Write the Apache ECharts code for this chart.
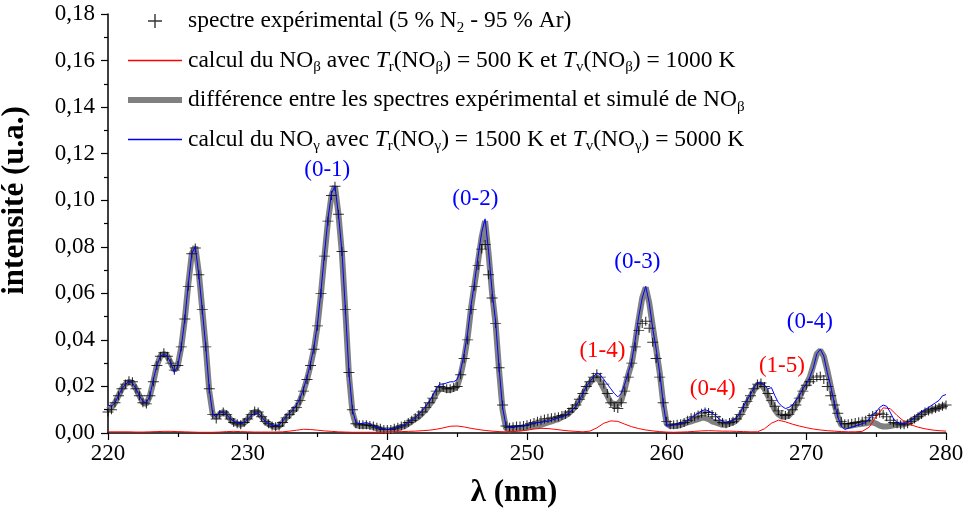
<!DOCTYPE html>
<html><head><meta charset="utf-8">
<script src="https://cdn.jsdelivr.net/npm/echarts@6/dist/echarts.min.js"></script>
<style>html,body{margin:0;padding:0;background:#fff}#c{width:965px;height:508px}</style>
</head><body><div id="c"></div>
<script>
// wavelength sampling
const LAMBDA_START = 220;
const STEP_FINE = 0.25;   // experimental, difference, NO-gamma
const STEP_RED = 0.5;     // NO-beta calculation

const xTicks = [220, 230, 240, 250, 260, 270, 280];
const yTicks = [0, 0.02, 0.04, 0.06, 0.08, 0.10, 0.12, 0.14, 0.16, 0.18];

// spectre expérimental
const experimental = [
  0.009,0.010,0.013,0.016, 0.019,0.021,0.0225,0.022, 0.019,0.016,0.013,0.0125, 0.016,0.022,0.029,0.033, 0.0345,0.033,0.030,0.027,
  0.029,0.037,0.049,0.063, 0.077,0.0795,0.068,0.053, 0.037,0.019,0.008,0.006, 0.008,0.009,0.008,0.006, 0.0045,0.004,0.0035,0.0045,
  0.006,0.008,0.0095,0.009, 0.007,0.005,0.004,0.003, 0.0027,0.003,0.0045,0.0065, 0.008,0.0095,0.011,0.014, 0.018,0.023,0.029,0.036,
  0.046,0.060,0.076,0.091, 0.102,0.106,0.094,0.078, 0.053,0.026,0.010,0.004, 0.0035,0.0035,0.0035,0.0032, 0.003,0.0025,0.002,0.0015,
  0.0015,0.0015,0.002,0.0025, 0.003,0.0035,0.0045,0.0055, 0.0065,0.0078,0.009,0.011, 0.013,0.015,0.018,0.020, 0.0195,0.019,0.019,0.0195,
  0.020,0.025,0.032,0.040, 0.053,0.063,0.072,0.079, 0.081,0.068,0.058,0.047, 0.028,0.012,0.003,0.0025, 0.0027,0.003,0.003,0.0032,
  0.0035,0.004,0.0045,0.005, 0.0055,0.006,0.0063,0.0065, 0.0068,0.007,0.0075,0.008, 0.009,0.0105,0.012,0.0145, 0.017,0.020,0.022,0.024,
  0.0255,0.024,0.021,0.017, 0.013,0.011,0.0105,0.013, 0.018,0.024,0.030,0.037, 0.044,0.047,0.048,0.045, 0.039,0.032,0.024,0.013,
  0.005,0.0035,0.0035,0.0038, 0.004,0.0045,0.0055,0.0065, 0.007,0.0077,0.0085,0.009, 0.0088,0.008,0.007,0.0055, 0.0045,0.004,0.0045,0.005,
  0.006,0.008,0.011,0.0135, 0.016,0.019,0.021,0.0215, 0.020,0.017,0.014,0.0115, 0.0095,0.008,0.0075,0.008, 0.010,0.012,0.015,0.018,
  0.0205,0.022,0.023,0.024, 0.0245,0.023,0.020,0.016, 0.012,0.0085,0.005,0.004, 0.004,0.0042,0.0045,0.0048, 0.005,0.0055,0.0065,0.0075,
  0.008,0.0085,0.008,0.007, 0.0055,0.0045,0.004,0.0035, 0.0035,0.004,0.005,0.006, 0.007,0.008,0.009,0.0095, 0.010,0.0105,0.011,0.0115,
  0.012
];

// calcul du NO-gamma
const calcGamma = [
  0.012,0.0115,0.013,0.016, 0.019,0.021,0.022,0.0215, 0.019,0.016,0.0135,0.013, 0.016,0.023,0.029,0.033, 0.034,0.033,0.030,0.026,
  0.029,0.037,0.049,0.064, 0.077,0.080,0.068,0.053, 0.037,0.019,0.008,0.007, 0.009,0.009,0.008,0.006, 0.005,0.0045,0.004,0.0045,
  0.006,0.0075,0.0085,0.0085, 0.007,0.005,0.004,0.0035, 0.003,0.0035,0.005,0.007, 0.0085,0.010,0.012,0.015, 0.019,0.024,0.030,0.037,
  0.047,0.061,0.077,0.092, 0.103,0.106,0.094,0.078, 0.053,0.026,0.010,0.0045, 0.004,0.0042,0.0045,0.004, 0.003,0.0025,0.002,0.0015,
  0.0015,0.0015,0.002,0.0025, 0.003,0.0035,0.0045,0.0055, 0.0065,0.008,0.0095,0.0115, 0.0135,0.016,0.019,0.021, 0.021,0.0215,0.022,0.022,
  0.023,0.027,0.034,0.043, 0.055,0.065,0.076,0.086, 0.092,0.078,0.061,0.048, 0.028,0.011,0.003,0.0025, 0.0025,0.003,0.003,0.003,
  0.0035,0.004,0.004,0.0045, 0.0045,0.005,0.005,0.0055, 0.006,0.0065,0.007,0.0075, 0.0085,0.010,0.0115,0.014, 0.017,0.020,0.022,0.024,
  0.0258,0.025,0.023,0.021, 0.019,0.017,0.0155,0.017, 0.021,0.026,0.031,0.040, 0.050,0.058,0.063,0.056, 0.045,0.036,0.026,0.013,
  0.003,0.003,0.0035,0.0038, 0.004,0.0045,0.0055,0.0065, 0.0075,0.0085,0.0095,0.010, 0.0095,0.0085,0.0075,0.006, 0.005,0.0045,0.005,0.0055,
  0.0065,0.0085,0.0115,0.014, 0.0165,0.0195,0.0215,0.0215, 0.0205,0.019,0.0195,0.016, 0.013,0.0115,0.0105,0.011, 0.012,0.014,0.016,0.019,
  0.021,0.024,0.028,0.034, 0.036,0.033,0.026,0.020, 0.013,0.007,0.003,0.0015, 0.002,0.0025,0.003,0.0035, 0.004,0.0045,0.006,0.008,
  0.009,0.011,0.012,0.0115, 0.009,0.006,0.0045,0.004, 0.004,0.0045,0.0055,0.0065, 0.008,0.009,0.010,0.011, 0.012,0.013,0.014,0.016,
  0.0165
];

// différence entre les spectres expérimental et simulé de NO-beta
const difference = [
  0.010,0.011,0.013,0.016, 0.019,0.021,0.022,0.0215, 0.019,0.016,0.013,0.0125, 0.016,0.022,0.029,0.033, 0.034,0.033,0.030,0.027,
  0.029,0.037,0.049,0.064, 0.077,0.080,0.069,0.053, 0.037,0.018,0.008,0.007, 0.008,0.009,0.008,0.006, 0.0045,0.004,0.0035,0.0045,
  0.006,0.008,0.009,0.009, 0.007,0.005,0.004,0.003, 0.0025,0.003,0.0045,0.0065, 0.008,0.0095,0.011,0.014, 0.018,0.023,0.029,0.036,
  0.046,0.060,0.076,0.091, 0.102,0.106,0.094,0.077, 0.052,0.025,0.009,0.0035, 0.003,0.003,0.003,0.003, 0.0025,0.002,0.0015,0.0012,
  0.0012,0.0012,0.0015,0.002, 0.0025,0.003,0.004,0.005, 0.006,0.007,0.0085,0.010, 0.012,0.014,0.017,0.019, 0.019,0.0185,0.0185,0.019,
  0.020,0.025,0.032,0.041, 0.054,0.064,0.074,0.084, 0.091,0.077,0.060,0.047, 0.027,0.010,0.002,0.0015, 0.002,0.0022,0.0022,0.0022,
  0.0025,0.0028,0.003,0.0032, 0.0035,0.004,0.0045,0.005, 0.0055,0.006,0.0068,0.0075, 0.0085,0.010,0.0115,0.014, 0.0165,0.0195,0.0215,0.0235,
  0.024,0.022,0.019,0.016, 0.013,0.0125,0.0125,0.014, 0.019,0.025,0.030,0.039, 0.049,0.058,0.0625,0.056, 0.046,0.036,0.026,0.013,
  0.004,0.003,0.003,0.003, 0.0035,0.004,0.0045,0.005, 0.0055,0.006,0.0065,0.0065, 0.006,0.005,0.0045,0.004, 0.0035,0.0035,0.004,0.0045,
  0.0055,0.0075,0.010,0.013, 0.0155,0.0185,0.0205,0.021, 0.019,0.016,0.013,0.010, 0.008,0.007,0.007,0.0075, 0.0095,0.012,0.015,0.0185,
  0.021,0.024,0.029,0.034, 0.0355,0.033,0.027,0.020, 0.013,0.007,0.0035,0.003, 0.003,0.0032,0.0035,0.0038, 0.004,0.0042,0.0045,0.0045,
  0.004,0.0032,0.0028,0.0028, 0.003,0.0033,0.0035,0.0035, 0.0038,0.0042,0.005,0.006, 0.007,0.008,0.009,0.0095, 0.010,0.0105,0.011,0.0115,
  0.012
];

// calcul du NO-beta (0.5 nm step)
const calcBeta = [
  0.0005,0.0005,0.0005,0.0005,0.0004,0.0004,0.0005,0.0006,0.0007,0.0007,
  0.0006,0.0005,0.0004,0.0003,0.0003,0.0003,0.0004,0.0006,0.0007,0.0006,
  0.0005,0.0004,0.0004,0.0004,0.0004,0.0005,0.0008,0.0012,0.0016,0.0015,
  0.0012,0.0009,0.0007,0.0005,0.0004,0.0003,0.0003,0.0003,0.0003,0.0003,
  0.0004,0.0005,0.0006,0.0007,0.0008,0.0010,0.0012,0.0016,0.0022,0.0029,
  0.0030,0.0026,0.0020,0.0015,0.0011,0.0008,0.0006,0.0005,0.0006,0.0008,
  0.0012,0.0017,0.0020,0.0019,0.0016,0.0012,0.0009,0.0007,0.0005,0.0008,
  0.0022,0.0042,0.0052,0.0050,0.0038,0.0027,0.0019,0.0013,0.0009,0.0006,
  0.0004,0.0003,0.0004,0.0005,0.0007,0.0009,0.0010,0.0009,0.0008,0.0008,
  0.0007,0.0006,0.0005,0.0005,0.0018,0.0042,0.0055,0.0048,0.0038,0.0030,
  0.0023,0.0017,0.0013,0.0010,0.0008,0.0006,0.0005,0.0005,0.0007,0.0025,
  0.0070,0.0108,0.0105,0.0075,0.0050,0.0035,0.0025,0.0018,0.0013,0.0010,
  0.0008
];

// band annotations: label, wavelength, intensity (text centre), colour
const annotations = [
  ['(0-1)', 235.7, 0.113, '#0000ff'],
  ['(0-2)', 246.3, 0.1005, '#0000ff'],
  ['(0-3)', 257.9, 0.0735, '#0000ff'],
  ['(1-4)', 255.4, 0.0352, '#ff0000'],
  ['(0-4)', 263.3, 0.0189, '#ff0000'],
  ['(1-5)', 268.25, 0.0288, '#ff0000'],
  ['(0-4)', 270.25, 0.0477, '#0000ff']
];

const seriesNames = {
  exp: 'spectre expérimental (5 % N{sub|2} - 95 % Ar)',
  beta: 'calcul du NO{sub|β} avec {it|T}{sub|r}(NO{sub|β}) = 500 K et {it|T}{sub|v}(NO{sub|β}) = 1000 K',
  diff: 'différence entre les spectres expérimental et simulé de NO{sub|β}',
  gamma: 'calcul du NO{sub|γ} avec {it|T}{sub|r}(NO{sub|γ}) = 1500 K et {it|T}{sub|v}(NO{sub|γ}) = 5000 K'
};

const FONT = "'Liberation Serif', 'Times New Roman', serif";
function pairs(arr, step) { return arr.map((v, i) => [LAMBDA_START + i * step, v]); }

const chart = echarts.init(document.getElementById('c'), null, { renderer: 'canvas' });
const crossPath = 'path://M0,4.5 H10 V5.5 H0 Z M4.5,0 H5.5 V10 H4.5 Z';
// legend line icons (tiny corner triangles keep the 54x14 box)
const thinLine = 'path://M0,0 L0.01,0 L0,0.01 Z M0,6.3 H54 V7.7 H0 Z M54,14 L53.99,14 L54,13.99 Z';
const thickLine = 'path://M0,0 L0.01,0 L0,0.01 Z M0,4 H54 V10 H0 Z M54,14 L53.99,14 L54,13.99 Z';

chart.setOption({
  animation: false,
  backgroundColor: '#ffffff',
  grid: { left: 108, right: 19, top: 14, bottom: 75, containLabel: false, outerBoundsMode: 'none' },
  legend: {
    left: 123, top: 3, orient: 'vertical', selectedMode: false,
    itemWidth: 54, itemHeight: 14, itemGap: 12,
    data: [
      { name: 'exp', icon: crossPath, itemStyle: { color: '#000000' } },
      { name: 'beta', icon: thinLine, itemStyle: { color: '#ff0000' } },
      { name: 'diff', icon: thickLine, itemStyle: { color: '#808080' } },
      { name: 'gamma', icon: thinLine, itemStyle: { color: '#0000ff' } }
    ],
    formatter: n => seriesNames[n],
    textStyle: {
      fontFamily: FONT, fontSize: 23.5, color: '#000', lineHeight: 26, padding: [0, 0, 0, 1],
      rich: {
        sub: { fontFamily: FONT, fontSize: 15, color: '#000', padding: [14, 0, 0, 0] },
        it: { fontFamily: FONT, fontSize: 23.5, fontStyle: 'italic', color: '#000' }
      }
    }
  },
  xAxis: {
    type: 'value', min: 220, max: 280, interval: 10,
    name: 'λ (nm)', nameLocation: 'middle', nameGap: 44,
    nameTextStyle: { fontFamily: FONT, fontSize: 31, fontWeight: 'bold', color: '#000', padding: [0, 26, 0, 0] },
    axisLine: { lineStyle: { color: '#000', width: 1.5 } },
    axisTick: { show: true, inside: false, length: 7, lineStyle: { color: '#000', width: 1.2 } },
    minorTick: { show: true, splitNumber: 2, length: 4, lineStyle: { color: '#000', width: 1.2 } },
    splitLine: { show: false },
    axisLabel: { fontFamily: FONT, fontSize: 23, color: '#000', margin: 9,
      formatter: v => xTicks.includes(v) ? String(v) : '' }
  },
  yAxis: {
    type: 'value', min: 0, max: 0.18, interval: 0.02,
    name: 'intensité (u.a.)', nameLocation: 'middle', nameGap: 78, nameRotate: 90,
    nameTextStyle: { fontFamily: FONT, fontSize: 31, fontWeight: 'bold', color: '#000', padding: [0, 0, 0, 46] },
    axisLine: { show: true, lineStyle: { color: '#000', width: 1.5 } },
    axisTick: { show: true, inside: false, length: 7, lineStyle: { color: '#000', width: 1.2 } },
    minorTick: { show: true, splitNumber: 2, length: 4, lineStyle: { color: '#000', width: 1.2 } },
    splitLine: { show: false },
    axisLabel: { fontFamily: FONT, fontSize: 23, color: '#000', margin: 13,
      formatter: v => { const t = yTicks.find(k => Math.abs(k - v) < 1e-9); return t === undefined ? '' : t.toFixed(2).replace('.', ','); } }
  },
  series: [
    { name: 'diff', type: 'line', data: pairs(difference, STEP_FINE), showSymbol: false, symbol: 'none',
      lineStyle: { color: '#808080', width: 6 }, itemStyle: { color: '#808080' }, z: 1 },
    { name: 'exp', type: 'scatter', data: pairs(experimental, STEP_FINE), symbol: crossPath, symbolSize: [11, 9],
      itemStyle: { color: '#000' }, z: 2 },
    { name: 'beta', type: 'line', data: pairs(calcBeta, STEP_RED), showSymbol: false, symbol: 'none',
      lineStyle: { color: '#ff0000', width: 1 }, itemStyle: { color: '#ff0000' }, z: 3 },
    { name: 'gamma', type: 'line', data: pairs(calcGamma, STEP_FINE), showSymbol: false, symbol: 'none',
      lineStyle: { color: '#0000ff', width: 1 }, itemStyle: { color: '#0000ff' }, z: 4 }
  ]
});

chart.setOption({
  graphic: annotations.map(([t, x, y, c]) => {
    const p = chart.convertToPixel({ gridIndex: 0 }, [x, y]);
    return { type: 'text', x: p[0], y: p[1], z: 10,
      style: { text: t, fill: c, font: '23px ' + FONT, align: 'center', verticalAlign: 'middle' } };
  })
});
</script>
</body></html>
